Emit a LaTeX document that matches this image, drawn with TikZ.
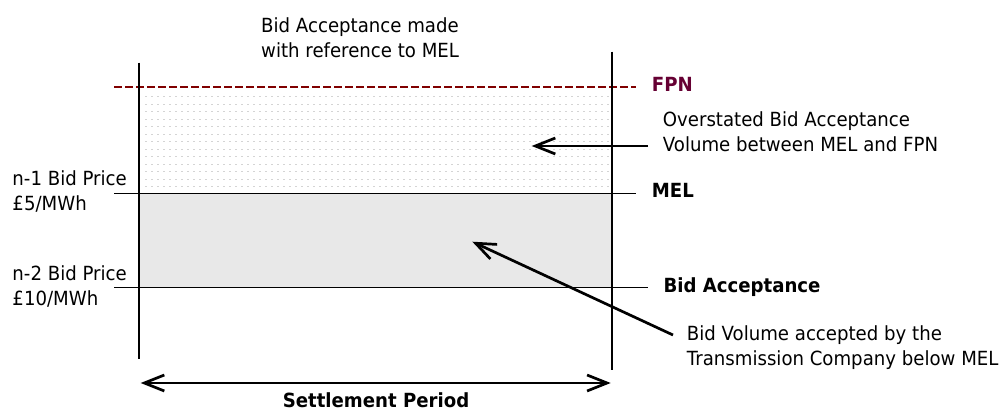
\documentclass[tikz,border=0pt]{standalone}
\usepackage{fontspec}
\setmainfont[FakeStretch=0.93]{DejaVu Sans}
\usetikzlibrary{arrows.meta}
\definecolor{fpnline}{RGB}{128,0,0}
\definecolor{fpntext}{RGB}{102,0,51}
\definecolor{areafill}{RGB}{232,232,232}
\definecolor{dotcol}{RGB}{212,212,212}
\tikzset{
  lbl/.style={inner sep=0pt, anchor=base west, align=left, font=\fontsize{19.5}{25}\selectfont},
  blbl/.style={lbl, font=\fontsize{19.5}{25}\selectfont\bfseries},
  axis/.style={line width=2pt, black},
  level/.style={line width=1.3pt, black},
  fpnstyle/.style={line width=2pt, fpnline, dash pattern=on 7.5pt off 3.5pt},
  pointer/.style={line width=2.7pt, -{Straight Barb[length=20pt, width=16pt, line width=2.7pt]}},
  span/.style={line width=2.7pt, {Straight Barb[length=20pt, width=16pt, line width=2.7pt]}-{Straight Barb[length=20pt, width=16pt, line width=2.7pt]}}
}
\begin{document}
\begin{tikzpicture}[x=1pt, y=-1pt]
\useasboundingbox (0,0) rectangle (1006,410);
% areas
\fill[areafill] (139,193.3) rectangle (612,287.7);
\foreach \r in {0,...,12}{
  \draw[dotcol, line width=1pt, dash pattern=on 2pt off 4pt] (145,96.7+7.5*\r) -- (610,96.7+7.5*\r);
}
% coordinates
\coordinate (lefttop) at (139.3,62.7);
\coordinate (leftbot) at (139.3,359.3);
\coordinate (righttop) at (612.3,51.7);
\coordinate (rightbot) at (612.3,370);
\coordinate (fpnA) at (114,87);
\coordinate (fpnB) at (636,87);
\coordinate (melA) at (114,193.3);
\coordinate (melB) at (636,193.3);
\coordinate (bidA) at (114,287.7);
\coordinate (bidB) at (648,287.7);
\coordinate (spanA) at (140.7,383);
\coordinate (spanB) at (610.7,383);
\coordinate (ovTail) at (648,146);
\coordinate (ovTip) at (531.7,146);
\coordinate (bvTail) at (673,335);
\coordinate (bvTip) at (472.3,241.7);
% lines
\draw[fpnstyle] (fpnA) -- (fpnB);
\draw[level] (melA) -- (melB);
\draw[level] (bidA) -- (bidB);
\draw[axis] (lefttop) -- (leftbot);
\draw[axis] (righttop) -- (rightbot);
% texts (multi-line nodes: base is the last line)
\node[lbl] (top) at (261,57) {Bid Acceptance made\\with reference to MEL};
\node[blbl, text=fpntext] (fpn) at (651.7,91.7) {FPN};
\node[lbl] (over) at (662.7,151.7) {Overstated Bid Acceptance\\Volume between MEL and FPN};
\node[blbl] (mel) at (651.7,197.3) {MEL};
\node[lbl] (n1) at (12.3,210) {n-1 Bid Price\\£5/MWh};
\node[lbl] (n2) at (12.3,305) {n-2 Bid Price\\£10/MWh};
\node[blbl] (bidacc) at (663.3,292.7) {Bid Acceptance};
\node[lbl] (bidvol) at (686.7,365) {Bid Volume accepted by the\\Transmission Company below MEL};
\node[blbl, anchor=base] (sp) at (376,407.5) {Settlement Period};
% arrows
\draw[pointer] (ovTail) -- (ovTip);
\draw[pointer] (bvTail) -- (bvTip);
\draw[span] (spanA) -- (spanB);
\end{tikzpicture}
\end{document}
